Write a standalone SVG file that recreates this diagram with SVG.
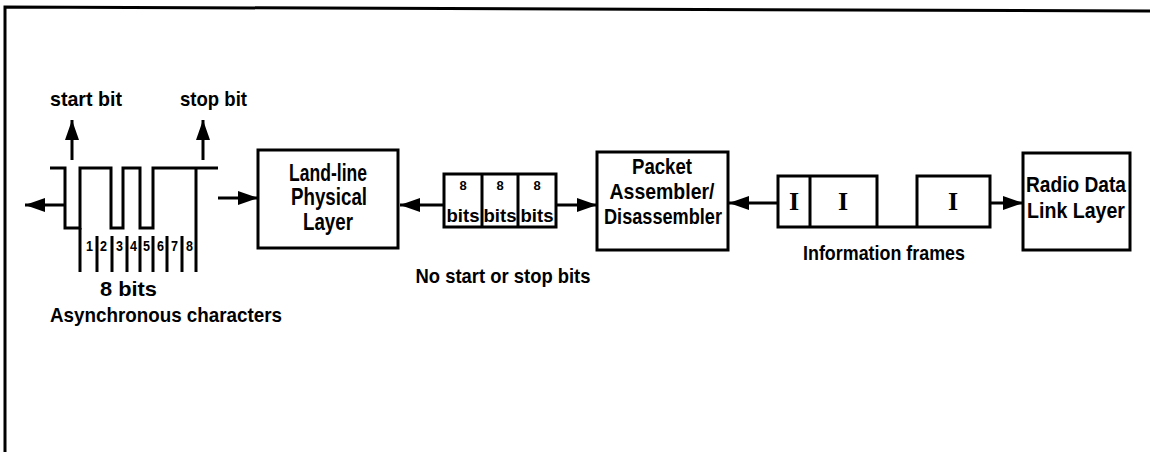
<svg xmlns="http://www.w3.org/2000/svg" width="1150" height="452" viewBox="0 0 1150 452">
<defs>
<marker id="ah" viewBox="0 0 20 14" refX="20" refY="7" markerWidth="20" markerHeight="14" markerUnits="userSpaceOnUse" orient="auto"><path d="M0,0 L20,7 L0,14 z" fill="#000"/></marker>
<style>
.t{font-family:"Liberation Sans",Arial,sans-serif;font-weight:bold;fill:#000}
.s{font-family:"Liberation Serif","Times New Roman",serif;font-weight:bold;fill:#000}
.b{fill:#fff;stroke:#000;stroke-width:3}
.l{fill:none;stroke:#000;stroke-width:3}
.c{fill:none;stroke:#000;stroke-width:3;marker-end:url(#ah)}
</style>
</defs>
<rect width="1150" height="452" fill="#fff"/>
<g id="frame"><path d="M5,452 V7 L1150,11" class="l"/></g>

<g id="async">
<path class="l" d="M50,168 H65 V228 H80 V168 H111 V228 H123 V168 H140 V228 H153 V168 H218"/>
<path class="l" stroke-width="2.5" d="M80,228 V272 M97,236 V272 M112,236 V272 M127,236 V272 M140,236 V272 M153,236 V272 M167,236 V272 M182,236 V272 M196,168 V272"/>
<text class="t" font-size="14" x="86" y="251" textLength="7" lengthAdjust="spacingAndGlyphs">1</text>
<text class="t" font-size="14" x="100" y="251" textLength="7" lengthAdjust="spacingAndGlyphs">2</text>
<text class="t" font-size="14" x="116" y="251" textLength="7" lengthAdjust="spacingAndGlyphs">3</text>
<text class="t" font-size="14" x="130" y="251" textLength="7" lengthAdjust="spacingAndGlyphs">4</text>
<text class="t" font-size="14" x="143" y="251" textLength="7" lengthAdjust="spacingAndGlyphs">5</text>
<text class="t" font-size="14" x="157" y="251" textLength="7" lengthAdjust="spacingAndGlyphs">6</text>
<text class="t" font-size="14" x="171" y="251" textLength="7" lengthAdjust="spacingAndGlyphs">7</text>
<text class="t" font-size="14" x="186" y="251" textLength="7" lengthAdjust="spacingAndGlyphs">8</text>
<text class="t" font-size="21" x="50" y="106" textLength="72" lengthAdjust="spacingAndGlyphs">start bit</text>
<text class="t" font-size="21" x="180" y="106" textLength="67" lengthAdjust="spacingAndGlyphs">stop bit</text>
<text class="t" font-size="21" x="100" y="296" textLength="57" lengthAdjust="spacingAndGlyphs">8 bits</text>
<text class="t" font-size="21" x="50" y="322" textLength="232" lengthAdjust="spacingAndGlyphs">Asynchronous characters</text>
</g>

<g id="landline">
<rect class="b" x="258" y="150" width="140" height="98"/>
<text class="t" font-size="23" x="328" y="181" text-anchor="middle" textLength="78" lengthAdjust="spacingAndGlyphs">Land-line</text>
<text class="t" font-size="23" x="329" y="205" text-anchor="middle" textLength="76" lengthAdjust="spacingAndGlyphs">Physical</text>
<text class="t" font-size="23" x="328" y="230" text-anchor="middle" textLength="50" lengthAdjust="spacingAndGlyphs">Layer</text>
</g>

<g id="bits">
<rect class="b" x="444" y="174" width="112" height="53"/>
<path class="l" d="M482,174 V227 M518,174 V227"/>
<text class="t" font-size="13" x="463" y="190" text-anchor="middle">8</text>
<text class="t" font-size="13" x="500" y="190" text-anchor="middle">8</text>
<text class="t" font-size="13" x="537" y="190" text-anchor="middle">8</text>
<text class="t" font-size="18" x="463" y="222" text-anchor="middle" textLength="33" lengthAdjust="spacingAndGlyphs">bits</text>
<text class="t" font-size="18" x="500" y="222" text-anchor="middle" textLength="33" lengthAdjust="spacingAndGlyphs">bits</text>
<text class="t" font-size="18" x="537" y="222" text-anchor="middle" textLength="33" lengthAdjust="spacingAndGlyphs">bits</text>
<text class="t" font-size="21" x="503" y="283" text-anchor="middle" textLength="175" lengthAdjust="spacingAndGlyphs">No start or stop bits</text>
</g>

<g id="pad">
<rect class="b" x="597" y="152" width="131" height="98"/>
<text class="t" font-size="22" x="662" y="174" text-anchor="middle" textLength="60" lengthAdjust="spacingAndGlyphs">Packet</text>
<text class="t" font-size="22" x="662" y="199" text-anchor="middle" textLength="105" lengthAdjust="spacingAndGlyphs">Assembler/</text>
<text class="t" font-size="22" x="663" y="224" text-anchor="middle" textLength="118" lengthAdjust="spacingAndGlyphs">Disassembler</text>
</g>

<g id="frames">
<path class="l" d="M778,176 H877 V227 H778 Z M810,176 V227 M877,227 H917 M917,176 H990 V227 H917 Z"/>
<text class="s" font-size="26" x="794" y="210" text-anchor="middle">I</text>
<text class="s" font-size="26" x="843" y="210" text-anchor="middle">I</text>
<text class="s" font-size="26" x="953" y="210" text-anchor="middle">I</text>
<text class="t" font-size="21" x="884" y="260" text-anchor="middle" textLength="162" lengthAdjust="spacingAndGlyphs">Information frames</text>
</g>

<g id="radio">
<rect class="b" x="1023" y="153" width="107" height="97"/>
<text class="t" font-size="22" x="1076" y="192" text-anchor="middle" textLength="100" lengthAdjust="spacingAndGlyphs">Radio Data</text>
<text class="t" font-size="22" x="1076" y="218" text-anchor="middle" textLength="98" lengthAdjust="spacingAndGlyphs">Link Layer</text>
</g>

<g id="connectors">
<line class="c" x1="65" y1="205" x2="25" y2="205"/>
<line class="c" x1="72" y1="160" x2="72" y2="120"/>
<line class="c" x1="203" y1="160" x2="203" y2="120"/>
<line class="c" x1="218" y1="198" x2="258" y2="198"/>
<line class="c" x1="444" y1="205" x2="400" y2="205"/>
<line class="c" x1="556" y1="205" x2="597" y2="205"/>
<line class="c" x1="778" y1="203" x2="729" y2="203"/>
<line class="c" x1="990" y1="203" x2="1023" y2="203"/>
</g>
</svg>
